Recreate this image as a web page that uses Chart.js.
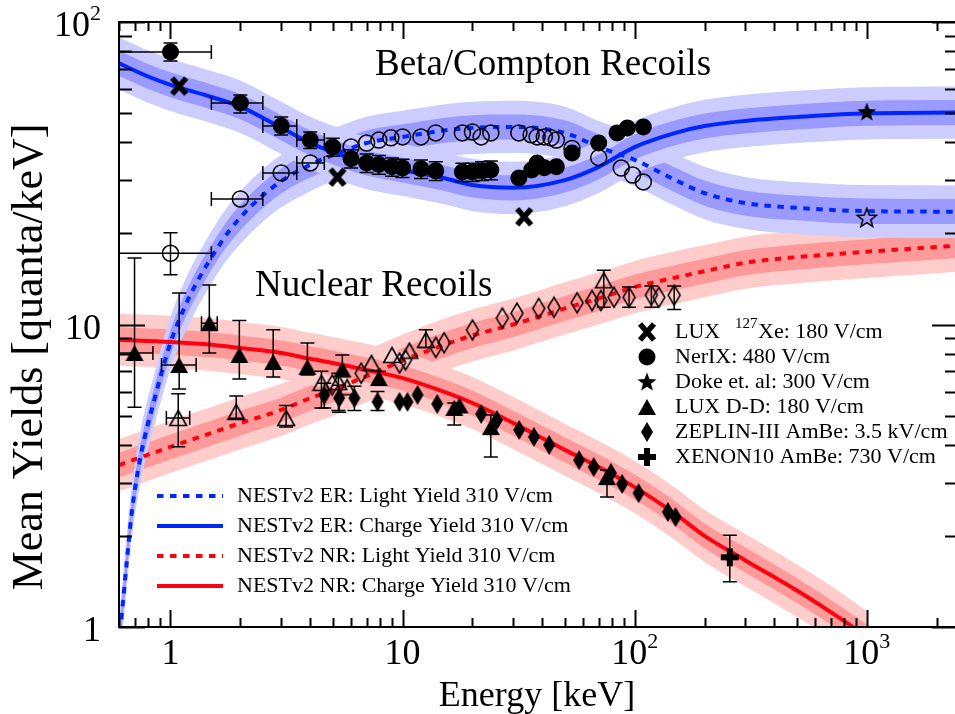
<!DOCTYPE html>
<html>
<head>
<meta charset="utf-8">
<script src="https://cdn.jsdelivr.net/npm/chart.js@4.4.1/dist/chart.umd.min.js"></script>
<style>
  html, body { margin: 0; padding: 0; background: #fff; overflow: hidden; }
  #wrap { position: relative; width: 955px; height: 714px; }
</style>
</head>
<body>
<div id="wrap"><canvas id="yields" width="955" height="714"></canvas></div>
<script>
// axis ranges
const xMin = 0.6, xMax = 2400, yMin = 1, yMax = 100;

// tick labels: [base, exponent]
const xTickVals = [1, 10, 100, 1000];
const xTickText = [['1', ''], ['10', ''], ['10', '2'], ['10', '3']];
const yTickVals = [1, 10, 100];
const yTickText = [['1', ''], ['10', ''], ['10', '2']];

// NESTv2 ER charge yield (310 V/cm) with 1 and 2 sigma bands
const erChargeE   = [0.6, 0.81, 1, 1.5, 2, 3, 4, 5, 7, 10, 15, 20, 30, 50, 70, 100, 150, 200, 300, 500, 1000, 2400];
const erChargeY   = [73, 65.8, 62, 56.5, 52.5, 44.7, 39.8, 37.2, 34.2, 32.4, 30.5, 28.9, 28.3, 30.0, 33.2, 38.6, 43.0, 45.3, 47.1, 48.5, 49.9, 50.2];
const erChargeHi1 = [80.3, 72.4, 68.2, 62.2, 57.8, 49.2, 43.8, 40.9, 37.6, 35.6, 33.6, 31.8, 31.1, 33.0, 36.5, 42.5, 47.3, 49.8, 51.8, 53.4, 54.9, 55.2];
const erChargeLo1 = [66.4, 59.8, 56.4, 51.4, 47.7, 40.6, 36.2, 33.8, 31.1, 29.5, 27.7, 26.3, 25.7, 27.3, 30.2, 35.1, 39.1, 41.2, 42.8, 44.1, 45.4, 45.6];
const erChargeHi2 = [89.1, 80.3, 75.6, 68.9, 64.1, 54.5, 48.6, 45.4, 41.7, 39.5, 37.2, 35.3, 34.5, 36.6, 40.5, 47.1, 52.5, 55.3, 57.5, 59.2, 60.9, 61.2];
const erChargeLo2 = [59.8, 53.9, 50.8, 46.3, 43.0, 36.6, 32.6, 30.5, 28.0, 26.6, 25.0, 23.7, 23.2, 24.6, 27.2, 31.6, 35.2, 37.1, 38.6, 39.8, 40.9, 41.1];

// NESTv2 ER light yield
const erLightE   = [0.6, 0.61, 0.647, 0.68, 0.74, 0.85, 1, 1.15, 1.3, 1.6, 1.8, 2.25, 3, 4, 5, 7, 10, 15, 20, 30, 50, 70, 100, 150, 200, 300, 500, 1000, 2400];
const erLightY   = [0.87, 1.0, 1.62, 2.37, 3.6, 5.6, 8.7, 11.4, 13.8, 18.0, 20.5, 24.8, 29.8, 33.7, 36.3, 39.8, 41.7, 43.8, 44.7, 45.0, 43.0, 38.6, 35.0, 30.0, 27.2, 25.2, 24.3, 23.7, 23.6];
const erLightHi1 = [0.96, 1.10, 1.78, 2.61, 3.96, 6.16, 9.57, 12.5, 15.2, 19.8, 22.6, 27.3, 32.8, 37.1, 39.9, 43.8, 45.9, 48.2, 49.2, 49.5, 47.3, 42.5, 38.5, 33.0, 29.9, 27.7, 26.7, 26.1, 26.0];
const erLightLo1 = [0.79, 0.91, 1.47, 2.15, 3.27, 5.09, 7.91, 10.4, 12.5, 16.4, 18.6, 22.5, 27.1, 30.6, 33.0, 36.2, 37.9, 39.8, 40.6, 40.9, 39.1, 35.1, 31.8, 27.3, 24.7, 22.9, 22.1, 21.5, 21.5];
const erLightHi2 = [1.06, 1.22, 1.98, 2.89, 4.39, 6.83, 10.6, 13.9, 16.8, 22.0, 25.0, 30.3, 36.4, 41.1, 44.3, 48.6, 50.9, 53.4, 54.5, 54.9, 52.5, 47.1, 42.7, 36.6, 33.2, 30.7, 29.6, 28.9, 28.8];
const erLightLo2 = [0.71, 0.82, 1.33, 1.94, 2.95, 4.59, 7.13, 9.34, 11.3, 14.8, 16.8, 20.3, 24.4, 27.6, 29.8, 32.6, 34.2, 35.9, 36.6, 36.9, 35.2, 31.6, 28.7, 24.6, 22.3, 20.7, 19.9, 19.4, 19.3];

// NESTv2 NR charge yield
const nrChargeE   = [0.6, 1, 1.5, 2, 3, 4, 5, 7, 10, 15, 20, 30, 50, 70, 100, 150, 200, 300, 500, 700, 1000];
const nrChargeY   = [8.9, 8.75, 8.57, 8.36, 8.05, 7.7, 7.46, 7.07, 6.65, 6.0, 5.5, 4.72, 3.85, 3.38, 2.9, 2.36, 2.0, 1.66, 1.32, 1.12, 0.93];
const nrChargeHi1 = [9.79, 9.63, 9.43, 9.20, 8.86, 8.47, 8.21, 7.78, 7.32, 6.60, 6.05, 5.19, 4.24, 3.72, 3.19, 2.60, 2.20, 1.83, 1.45, 1.23, 1.02];
const nrChargeLo1 = [8.09, 7.95, 7.79, 7.60, 7.32, 7.00, 6.78, 6.43, 6.05, 5.45, 5.00, 4.29, 3.50, 3.07, 2.64, 2.15, 1.82, 1.51, 1.20, 1.02, 0.85];
const nrChargeHi2 = [10.86, 10.68, 10.46, 10.20, 9.82, 9.39, 9.10, 8.63, 8.11, 7.32, 6.71, 5.76, 4.70, 4.12, 3.54, 2.88, 2.44, 2.03, 1.61, 1.37, 1.13];
const nrChargeLo2 = [7.30, 7.17, 7.02, 6.85, 6.60, 6.31, 6.12, 5.80, 5.45, 4.92, 4.51, 3.87, 3.16, 2.77, 2.38, 1.93, 1.64, 1.36, 1.08, 0.92, 0.76];

// NESTv2 NR light yield
const nrLightE   = [0.6, 1, 1.5, 2, 3, 4, 5, 7, 10, 15, 20, 30, 50, 70, 100, 150, 200, 300, 500, 1000, 2400];
const nrLightY   = [3.43, 3.94, 4.38, 4.72, 5.22, 5.71, 6.07, 6.75, 7.6, 8.55, 9.2, 10.0, 11.3, 12.2, 13.3, 14.3, 15.0, 16.0, 16.7, 17.4, 18.2];
const nrLightHi1 = [3.77, 4.33, 4.82, 5.19, 5.74, 6.28, 6.68, 7.43, 8.36, 9.41, 10.12, 11.0, 12.43, 13.42, 14.63, 15.73, 16.5, 17.6, 18.37, 19.14, 20.02];
const nrLightLo1 = [3.12, 3.58, 3.98, 4.29, 4.75, 5.19, 5.52, 6.14, 6.91, 7.77, 8.36, 9.09, 10.27, 11.09, 12.09, 13.0, 13.64, 14.55, 15.18, 15.82, 16.55];
const nrLightHi2 = [4.18, 4.81, 5.34, 5.76, 6.37, 6.97, 7.41, 8.24, 9.27, 10.43, 11.22, 12.2, 13.79, 14.88, 16.23, 17.45, 18.3, 19.52, 20.37, 21.23, 22.2];
const nrLightLo2 = [2.81, 3.23, 3.59, 3.87, 4.28, 4.68, 4.98, 5.53, 6.23, 7.01, 7.54, 8.20, 9.26, 10.0, 10.9, 11.72, 12.3, 13.12, 13.69, 14.26, 14.92];

// NerIX 480 V/cm (filled = charge, open = light)
const nerixChargeE = [1, 2, 3, 4, 5, 6, 7, 7.9, 9, 10, 12, 13.9, 18.1, 20, 22, 24, 31.7, 36, 38, 40.8, 46, 53.7, 70, 84, 93, 109];
const nerixChargeY = [79.6, 54, 45.3, 40.7, 38.6, 35.3, 34.2, 33.8, 33.2, 32.9, 32.7, 32.2, 31.9, 31.9, 32.2, 32.4, 30.5, 32.4, 34.2, 33.0, 33.2, 36.9, 39.8, 43.0, 44.6, 45.0];
const nerixChargeXerr = [[0.5, 1.5], [1.5, 2.5], [2.5, 3.5], [3.5, 4.6]];
const nerixChargeYerr = [[74.3, 85.3], [50.0, 57.4], [42.3, 48.5], [38.2, 43.3], [36.0, 41.3], [32.9, 37.8], [31.8, 36.6], [31.4, 36.2], [30.9, 35.5], [30.6, 35.2], [30.4, 35.0], [29.9, 34.5], [29.7, 34.1], [29.7, 34.1], [29.9, 34.5], [30.1, 34.7]];
const nerixLightE = [1, 2, 3, 4, 6, 7, 7.9, 8.9, 10, 12, 13.9, 18.1, 20, 21.8, 24, 31.7, 35.8, 38, 40.8, 43.6, 46, 53.7, 70, 87.5, 98, 109];
const nerixLightY = [17.2, 26.0, 31.7, 34.2, 38.6, 39.8, 40.7, 41.4, 41.7, 41.7, 43.0, 43.0, 43.3, 41.7, 43.0, 43.0, 42.4, 41.7, 41.7, 41.4, 40.7, 38.2, 35.6, 32.9, 31.2, 29.6];
const nerixLightXerr = [[0.5, 1.5], [1.5, 2.5], [2.5, 3.5], [3.5, 4.6]];
const nerixLightYerr = [[14.6, 20.1]];

// LUX 127Xe 180 V/cm
const luxXeE = [1.09, 5.24, 33.4];
const luxXeY = [61.4, 30.7, 22.7];

// Doke et al. 300 V/cm
const dokeChargeE = [1000];
const dokeChargeY = [50.4];
const dokeLightE = [1000];
const dokeLightY = [22.5];

// LUX D-D 180 V/cm
const luxDDChargeE = [0.70, 1.09, 1.47, 1.98, 2.77, 3.89, 5.5, 7.9, 16.7, 17.6, 24, 76];
const luxDDChargeY = [8.05, 7.35, 10.1, 7.93, 7.52, 7.24, 7.1, 6.65, 5.3, 5.4, 4.58, 3.13];
const luxDDChargeXerr = [[0.5, 0.84], [0.915, 1.29], [1.36, 1.59]];
const luxDDChargeYerr = [[5.33, 16.6], [6.12, 12.7], [8.05, 13.5], [6.6, 10.3], [6.7, 9.6], [6.81, 8.69], [6.8, 7.93], [6.3, 7.0], [4.65, 5.5], null, [3.65, 5.02], [2.69, 3.30]];
const luxDDLightE = [1.08, 1.92, 3.15, 4.47, 5.29, 5.77, 7.34, 9.0, 10.7, 12.6, 73.6];
const luxDDLightY = [4.91, 5.14, 4.91, 6.41, 6.45, 6.2, 7.46, 7.93, 8.2, 8.89, 14.0];
const luxDDLightXerr = [[0.96, 1.21]];
const luxDDLightYerr = [[3.94, 5.9], [4.9, 5.8], [4.58, 5.4], [5.3, 7.0], [5.2, 6.9], null, null, null, null, [8.4, 9.6], [11.4, 15.1]];

// ZEPLIN-III AmBe 3.5 kV/cm
const zeplinChargeE = [4.6, 5.33, 6.2, 7.8, 9.7, 10.5, 11.6, 14.1, 21.8, 25.5, 31.8, 36.8, 42.8, 57.6, 66.6, 79, 88.3, 104, 139, 150];
const zeplinChargeY = [5.85, 5.71, 5.71, 5.55, 5.55, 5.55, 5.85, 5.46, 5.06, 4.83, 4.48, 4.25, 4.0, 3.56, 3.38, 3.23, 2.97, 2.77, 2.40, 2.31];
const zeplinChargeYerr = [[5.3, 6.4], [5.13, 6.3], [5.2, 6.25], [5.2, 6.0]];
const zeplinLightE = [4.98, 6.63, 9.7, 10.3, 13.9, 15.1, 20, 26.9, 31.1, 38.6, 44.9, 56.5, 65.5, 71.5, 81.5, 94.6, 118, 127, 148];
const zeplinLightY = [6.31, 6.9, 7.46, 7.63, 8.4, 8.7, 9.59, 10.5, 10.9, 11.3, 11.4, 11.8, 12.0, 12.0, 12.3, 12.3, 12.5, 12.3, 12.5];
const zeplinLightYerr = [null, null, null, null, null, null, null, null, null, null, null, null, null, null, null, [11.4, 13.3], [11.4, 13.4], null, [11.2, 13.4]];

// XENON10 AmBe 730 V/cm
const xenon10E = [257];
const xenon10Y = [1.70];
const xenon10Yerr = [[1.41, 2.01]];

const SERIF = '"Liberation Serif", "Times New Roman", serif';
const BLUE = '#0026ff', RED = '#ff0010';
const BLUE_OUT = '#ccccff', BLUE_IN = '#9a9aff';
const RED_OUT = '#ffcccc', RED_IN = '#ff9a9a';

const pts = (xs, ys) => xs.map((x, i) => ({ x: x, y: ys[i] }));

// small canvases used as point styles
function marker(w, h, draw) {
    const c = document.createElement('canvas');
    c.width = w;
    c.height = h;
    const g = c.getContext('2d');
    g.fillStyle = '#000';
    g.strokeStyle = '#000';
    draw(g);
    return c;
}
function poly(g, p) {
    g.beginPath();
    g.moveTo(p[0][0], p[0][1]);
    for (let i = 1; i < p.length; i++) g.lineTo(p[i][0], p[i][1]);
    g.closePath();
}
function star(g, cx, cy, ro, ri) {
    const p = [];
    for (let i = 0; i < 10; i++) {
        const r = i % 2 ? ri : ro;
        const a = -Math.PI / 2 + i * Math.PI / 5;
        p.push([cx + r * Math.cos(a), cy + r * Math.sin(a)]);
    }
    poly(g, p);
}

const mX = marker(20, 22, g => {
    g.lineWidth = 5.5;
    g.beginPath();
    g.moveTo(3, 3); g.lineTo(17, 19);
    g.moveTo(17, 3); g.lineTo(3, 19);
    g.stroke();
});
const mStarFull = marker(22, 22, g => { star(g, 11, 11.5, 10, 4.2); g.fill(); });
const mStarOpen = marker(24, 24, g => { star(g, 12, 12.5, 10, 4.2); g.lineWidth = 1.5; g.stroke(); });
const mTriFull = marker(20, 18, g => { poly(g, [[10, 1], [19, 17], [1, 17]]); g.fill(); });
const mTriOpen = marker(20, 18, g => { poly(g, [[10, 1.5], [18.3, 16.5], [1.7, 16.5]]); g.lineWidth = 1.6; g.stroke(); });
const mDiamFull = marker(14, 22, g => { poly(g, [[7, 1], [13, 11], [7, 21], [1, 11]]); g.fill(); });
const mDiamOpen = marker(16, 24, g => { poly(g, [[8, 2], [14, 12], [8, 22], [2, 12]]); g.lineWidth = 1.5; g.stroke(); });
const mPlus = marker(20, 20, g => { g.fillRect(1, 7, 18, 6); g.fillRect(7, 1, 6, 18); });

function markerSet(xs, ys, style, extra) {
    return Object.assign({
        data: pts(xs, ys),
        showLine: false,
        pointStyle: style,
        pointRadius: 6,
        pointBackgroundColor: '#000',
        pointBorderColor: '#000',
        pointBorderWidth: 0
    }, extra || {});
}
function curve(xs, ys, color, dashed) {
    return {
        data: pts(xs, ys),
        borderColor: color,
        borderWidth: 4,
        borderDash: dashed ? [6.5, 6.5] : [],
        pointRadius: 0,
        fill: false,
        cubicInterpolationMode: 'monotone'
    };
}
function band(xs, hi, lo, color) {
    return [
        { data: pts(xs, hi), borderWidth: 0, pointRadius: 0, fill: '+1', backgroundColor: color, cubicInterpolationMode: 'monotone' },
        { data: pts(xs, lo), borderWidth: 0, pointRadius: 0, fill: false, cubicInterpolationMode: 'monotone' }
    ];
}

// first dataset ends up on top
const datasets = [
    markerSet(xenon10E, xenon10Y, mPlus, { yErr: xenon10Yerr }),
    markerSet(zeplinChargeE, zeplinChargeY, mDiamFull, { yErr: zeplinChargeYerr }),
    markerSet(zeplinLightE, zeplinLightY, mDiamOpen, { yErr: zeplinLightYerr }),
    markerSet(luxDDChargeE, luxDDChargeY, mTriFull, { xErr: luxDDChargeXerr, yErr: luxDDChargeYerr }),
    markerSet(luxDDLightE, luxDDLightY, mTriOpen, { xErr: luxDDLightXerr, yErr: luxDDLightYerr }),
    markerSet(dokeChargeE, dokeChargeY, mStarFull),
    markerSet(dokeLightE, dokeLightY, mStarOpen),
    markerSet(luxXeE, luxXeY, mX),
    markerSet(nerixChargeE, nerixChargeY, 'circle', { pointRadius: 8.5, xErr: nerixChargeXerr, yErr: nerixChargeYerr }),
    markerSet(nerixLightE, nerixLightY, 'circle', { pointRadius: 8, pointBackgroundColor: 'rgba(0,0,0,0)', pointBorderWidth: 1.5, xErr: nerixLightXerr, yErr: nerixLightYerr }),
    curve(erChargeE, erChargeY, BLUE, false),
    curve(erLightE, erLightY, BLUE, true),
    curve(nrChargeE, nrChargeY, RED, false),
    curve(nrLightE, nrLightY, RED, true),
    ...band(erChargeE, erChargeHi1, erChargeLo1, BLUE_IN),
    ...band(erChargeE, erChargeHi2, erChargeLo2, BLUE_OUT),
    ...band(erLightE, erLightHi1, erLightLo1, BLUE_IN),
    ...band(erLightE, erLightHi2, erLightLo2, BLUE_OUT),
    ...band(nrChargeE, nrChargeHi1, nrChargeLo1, RED_IN),
    ...band(nrChargeE, nrChargeHi2, nrChargeLo2, RED_OUT),
    ...band(nrLightE, nrLightHi1, nrLightLo1, RED_IN),
    ...band(nrLightE, nrLightHi2, nrLightLo2, RED_OUT)
];

// right-hand legend for the measurements
const dataLegend = [
    { m: mX, text: 'LUX', sup: '127', rest: 'Xe: 180 V/cm' },
    { m: 'dot', text: 'NerIX: 480 V/cm' },
    { m: mStarFull, text: 'Doke et. al: 300 V/cm' },
    { m: mTriFull, text: 'LUX D-D: 180 V/cm' },
    { m: mDiamFull, text: 'ZEPLIN-III AmBe: 3.5 kV/cm' },
    { m: mPlus, text: 'XENON10 AmBe: 730 V/cm' }
];
// lower-left legend for the model curves
const modelLegend = [
    { color: BLUE, dashed: true, text: 'NESTv2 ER: Light Yield 310 V/cm' },
    { color: BLUE, dashed: false, text: 'NESTv2 ER: Charge Yield 310 V/cm' },
    { color: RED, dashed: true, text: 'NESTv2 NR: Light Yield 310 V/cm' },
    { color: RED, dashed: false, text: 'NESTv2 NR: Charge Yield 310 V/cm' }
];

function powLabel(ctx, base, exp, x, y, align) {
    ctx.font = '36px ' + SERIF;
    const wb = ctx.measureText(base).width;
    ctx.font = '22px ' + SERIF;
    const we = exp ? ctx.measureText(exp).width : 0;
    const total = wb + we;
    let x0 = align === 'right' ? x - total : x - total / 2;
    ctx.textAlign = 'left';
    ctx.font = '36px ' + SERIF;
    ctx.fillText(base, x0, y);
    if (exp) {
        ctx.font = '22px ' + SERIF;
        ctx.fillText(exp, x0 + wb, y - 16);
    }
}

const axesAndText = {
    id: 'axesAndText',
    beforeDatasetDraw(chart, args) {
        const ds = chart.data.datasets[args.index];
        if (!ds.xErr && !ds.yErr) return;
        const ctx = chart.ctx, xs = chart.scales.x, ys = chart.scales.y, a = chart.chartArea;
        ctx.save();
        ctx.beginPath();
        ctx.rect(a.left, a.top, a.right - a.left, a.bottom - a.top);
        ctx.clip();
        ctx.strokeStyle = '#000';
        ctx.lineWidth = 1.5;
        const cap = 7;
        ds.data.forEach((p, i) => {
            const px = xs.getPixelForValue(p.x), py = ys.getPixelForValue(p.y);
            const xe = ds.xErr && ds.xErr[i];
            const ye = ds.yErr && ds.yErr[i];
            ctx.beginPath();
            if (xe) {
                const x1 = xs.getPixelForValue(xe[0]), x2 = xs.getPixelForValue(xe[1]);
                ctx.moveTo(x1, py); ctx.lineTo(x2, py);
                ctx.moveTo(x1, py - cap); ctx.lineTo(x1, py + cap);
                ctx.moveTo(x2, py - cap); ctx.lineTo(x2, py + cap);
            }
            if (ye) {
                const y1 = ys.getPixelForValue(ye[0]), y2 = ys.getPixelForValue(ye[1]);
                ctx.moveTo(px, y1); ctx.lineTo(px, y2);
                ctx.moveTo(px - cap, y1); ctx.lineTo(px + cap, y1);
                ctx.moveTo(px - cap, y2); ctx.lineTo(px + cap, y2);
            }
            ctx.stroke();
        });
        ctx.restore();
    },
    afterDraw(chart) {
        const ctx = chart.ctx, xs = chart.scales.x, ys = chart.scales.y, a = chart.chartArea;
        // the right frame edge sits a few pixels past the canvas
        const rightEdge = a.right + 3;
        ctx.save();
        ctx.strokeStyle = '#000';
        ctx.fillStyle = '#000';
        ctx.lineWidth = 2;

        ctx.beginPath();
        ctx.moveTo(rightEdge, a.top);
        ctx.lineTo(a.left, a.top);
        ctx.lineTo(a.left, a.bottom);
        ctx.lineTo(rightEdge, a.bottom);
        ctx.stroke();

        // inward log ticks on all four sides
        ctx.beginPath();
        for (let d = -1; d <= 3; d++) {
            for (let m = 1; m <= 9; m++) {
                const v = m * Math.pow(10, d);
                if (v >= xMin && v <= xMax) {
                    const px = Math.round(xs.getPixelForValue(v)) + 0.5;
                    const len = m === 1 ? 17 : 9;
                    ctx.moveTo(px, a.bottom); ctx.lineTo(px, a.bottom - len);
                    ctx.moveTo(px, a.top); ctx.lineTo(px, a.top + len);
                }
                if (v >= yMin && v <= yMax) {
                    const py = Math.round(ys.getPixelForValue(v)) + 0.5;
                    const len = m === 1 ? 26 : 13;
                    ctx.moveTo(a.left, py); ctx.lineTo(a.left + len, py);
                    ctx.moveTo(rightEdge, py); ctx.lineTo(rightEdge - len, py);
                }
            }
        }
        ctx.stroke();

        // tick labels
        ctx.textBaseline = 'alphabetic';
        xTickVals.forEach((v, i) => {
            powLabel(ctx, xTickText[i][0], xTickText[i][1], xs.getPixelForValue(v), 664, 'center');
        });
        yTickVals.forEach((v, i) => {
            powLabel(ctx, yTickText[i][0], yTickText[i][1], 101, ys.getPixelForValue(v) + 14, 'right');
        });

        // axis titles
        ctx.font = '36px ' + SERIF;
        ctx.textAlign = 'center';
        ctx.fillText('Energy [keV]', 537, 706);
        ctx.save();
        ctx.translate(42, 357);
        ctx.rotate(-Math.PI / 2);
        ctx.font = '44px ' + SERIF;
        ctx.fillText('Mean Yields [quanta/keV]', 0, 0);
        ctx.restore();

        // group labels
        ctx.textAlign = 'left';
        ctx.font = '37px ' + SERIF;
        ctx.fillText('Beta/Compton Recoils', 375, 75);
        ctx.fillText('Nuclear Recoils', 255, 296);

        // measurement legend
        dataLegend.forEach((e, i) => {
            const base = 338 + i * 25;
            const my = base - 6;
            if (e.m === 'dot') {
                ctx.beginPath();
                ctx.arc(647, my, 8.5, 0, Math.PI * 2);
                ctx.fill();
            } else {
                ctx.drawImage(e.m, 647 - e.m.width / 2, my - e.m.height / 2);
            }
            ctx.font = '22px ' + SERIF;
            ctx.fillText(e.text, 675, base);
            if (e.sup) {
                ctx.font = '15px ' + SERIF;
                ctx.fillText(e.sup, 735, base - 10);
                const ws = ctx.measureText(e.sup).width;
                ctx.font = '22px ' + SERIF;
                ctx.fillText(e.rest, 735 + ws + 0.5, base);
            }
        });

        // model legend
        modelLegend.forEach((e, i) => {
            const ly = 496 + i * 30;
            ctx.beginPath();
            ctx.strokeStyle = e.color;
            ctx.lineWidth = 4;
            ctx.setLineDash(e.dashed ? [6.5, 6.5] : []);
            ctx.moveTo(157, ly);
            ctx.lineTo(223, ly);
            ctx.stroke();
            ctx.setLineDash([]);
            ctx.font = '22px ' + SERIF;
            ctx.fillText(e.text, 237, ly + 6);
        });
        ctx.restore();
    }
};

const hiddenAxis = {
    display: false,
    ticks: { display: false },
    grid: { display: false },
    border: { display: false }
};

new Chart(document.getElementById('yields').getContext('2d'), {
    type: 'line',
    data: { datasets: datasets },
    options: {
        responsive: false,
        animation: false,
        devicePixelRatio: 1,
        layout: {
            autoPadding: false,
            padding: { left: 119, right: 0, top: 22, bottom: 87 }
        },
        plugins: {
            legend: { display: false },
            tooltip: { enabled: false }
        },
        scales: {
            x: Object.assign({ type: 'logarithmic', min: xMin, max: xMax }, hiddenAxis),
            y: Object.assign({ type: 'logarithmic', min: yMin, max: yMax }, hiddenAxis)
        }
    },
    plugins: [axesAndText]
});
</script>
</body>
</html>
